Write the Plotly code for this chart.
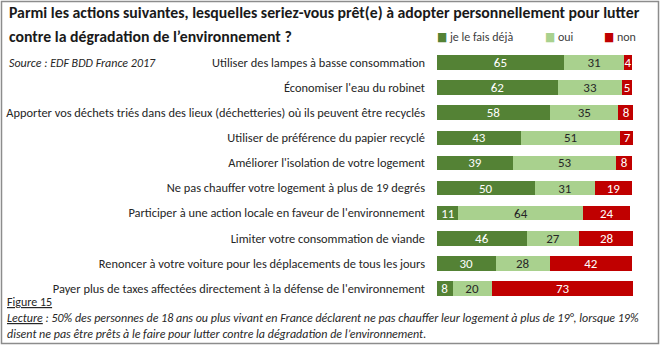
import plotly.graph_objects as go

W, H = 663, 347
ML, MR, MT, MB = 437, 30, 50, 46

categories = [
    "Utiliser des lampes à basse consommation",
    "Économiser l'eau du robinet",
    "Apporter vos déchets triés dans des lieux (déchetteries) où ils peuvent être recyclés",
    "Utiliser de préférence du papier recyclé",
    "Améliorer l'isolation de votre logement",
    "Ne pas chauffer votre logement à plus de 19 degrés",
    "Participer à une action locale en faveur de l'environnement",
    "Limiter votre consommation de viande",
    "Renoncer à votre voiture pour les déplacements de tous les jours",
    "Payer plus de taxes affectées directement à la défense de l'environnement",
]
deja = [65, 62, 58, 43, 39, 50, 11, 46, 30, 8]
oui = [31, 33, 35, 51, 53, 31, 64, 27, 28, 20]
non = [4, 5, 8, 7, 8, 19, 24, 28, 42, 73]

series_names = ["je le fais déjà", "oui", "non"]
colors = ["#548235", "#a9d18e", "#c00000"]
text_colors = ["white", "#262626", "white"]

FONT = "Carlito, Calibri, 'Liberation Sans Narrow', 'DejaVu Sans Condensed', Arial, sans-serif"

fig = go.Figure()
for name, vals, c, tc in zip(series_names, [deja, oui, non], colors, text_colors):
    fig.add_trace(go.Bar(
        y=categories, x=vals, orientation="h", name=name,
        marker=dict(color=c, line=dict(width=0)),
        text=[str(v) for v in vals], textposition="inside", textangle=0,
        insidetextanchor="middle", constraintext="none",
        textfont=dict(color=tc, size=13, family=FONT),
        showlegend=False,
    ))

pw = W - ML - MR
ph = H - MT - MB
def px_x(p):
    return (p - ML) / pw
def px_y(p):
    return 1 - (p - MT) / ph

annotations = [
    dict(text="<b>Parmi les actions suivantes, lesquelles seriez-vous prêt(e) à adopter personnellement pour lutter</b>",
         x=px_x(7), y=px_y(13), xref="paper", yref="paper", xanchor="left", yanchor="middle",
         showarrow=False, font=dict(size=15.8, color="#1a1a1a", family=FONT)),
    dict(text="<b>contre la dégradation de l’environnement ?</b>",
         x=px_x(7), y=px_y(36), xref="paper", yref="paper", xanchor="left", yanchor="middle",
         showarrow=False, font=dict(size=15.8, color="#1a1a1a", family=FONT)),
    dict(text="<i>Source : EDF BDD France 2017</i>",
         x=px_x(7), y=px_y(63), xref="paper", yref="paper", xanchor="left", yanchor="middle",
         showarrow=False, font=dict(size=12, color="#262626", family=FONT)),
    dict(text="<u>Figure 15</u>",
         x=px_x(5), y=px_y(302), xref="paper", yref="paper", xanchor="left", yanchor="middle",
         showarrow=False, font=dict(size=12, color="#262626", family=FONT)),
    dict(text="<i><u>Lecture</u> : 50% des personnes de 18 ans ou plus vivant en France déclarent ne pas chauffer leur logement à plus de 19°, lorsque 19%</i>",
         x=px_x(5), y=px_y(318), xref="paper", yref="paper", xanchor="left", yanchor="middle",
         showarrow=False, font=dict(size=12, color="#262626", family=FONT)),
    dict(text="<i>disent ne pas être prêts à le faire pour lutter contre la dégradation de l’environnement.</i>",
         x=px_x(5), y=px_y(334), xref="paper", yref="paper", xanchor="left", yanchor="middle",
         showarrow=False, font=dict(size=12, color="#262626", family=FONT)),
]
legend_x = [435, 543, 602]
for name, c, lx in zip(series_names, colors, legend_x):
    annotations.append(dict(
        text=f"<span style='color:{c}'>■</span> {name}",
        x=px_x(lx), y=px_y(37), xref="paper", yref="paper", xanchor="left", yanchor="middle",
        showarrow=False, font=dict(size=12, color="#404040", family=FONT)))

fig.update_layout(
    width=W, height=H,
    margin=dict(l=ML, r=MR, t=MT, b=MB, pad=0, autoexpand=False),
    barmode="stack", bargap=0.42,
    plot_bgcolor="white", paper_bgcolor="white",
    xaxis=dict(range=[0, 100.5], visible=False, fixedrange=True, automargin=False),
    yaxis=dict(autorange="reversed", showgrid=False, showline=False, ticks="",
               ticklabelstandoff=11, automargin=False,
               tickfont=dict(size=12.4, color="#262626", family=FONT)),
    uniformtext=dict(minsize=13, mode="show"),
    annotations=annotations,
    shapes=[dict(type="rect", xref="paper", yref="paper",
                 x0=px_x(1.5), x1=px_x(658.5), y0=px_y(1.5), y1=px_y(343.5),
                 line=dict(color="#8c8c8c", width=1.5), fillcolor="rgba(0,0,0,0)", layer="below")],
)

fig.write_html("out.html")
